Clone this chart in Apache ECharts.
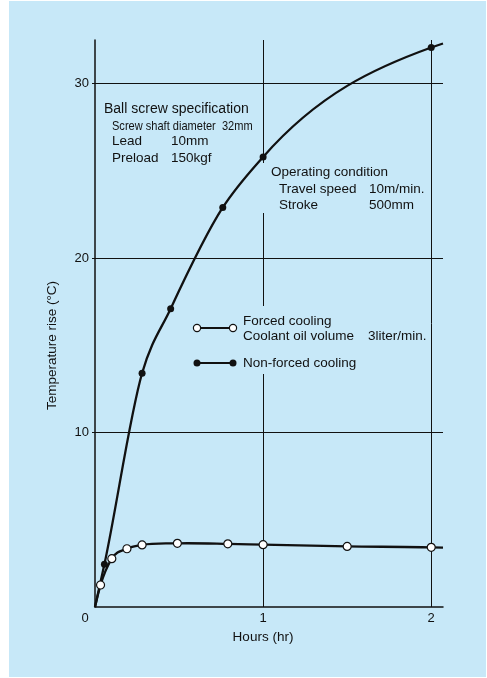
<!DOCTYPE html>
<html>
<head>
<meta charset="utf-8">
<script src="https://cdn.jsdelivr.net/npm/echarts@6/dist/echarts.min.js"></script>
<style>
  html, body { margin: 0; padding: 0; background: #ffffff; }
  #chart { position: absolute; left: 9px; top: 1px; width: 477px; height: 676px; background: #c7e8f8; }
</style>
</head>
<body>
<div id="chart"></div>
<script>
// Temperature rise of a ball screw over running time
const xTicks = [0, 1, 2];
const yTicks = [10, 20, 30];

// Forced cooling (coolant oil 3 liter/min) – hours, °C
const forcedHours = [0, 0.033, 0.10, 0.19, 0.28, 0.49, 0.79, 1.0, 1.5, 2.0, 2.07];
const forcedTemp  = [0, 1.26, 2.77, 3.34, 3.56, 3.65, 3.62, 3.57, 3.47, 3.42, 3.40];

// Non-forced cooling – hours, °C
const nonForcedHours = [0, 0.056, 0.28, 0.45, 0.76, 1.0, 2.0, 2.07];
const nonForcedTemp  = [0, 2.45, 13.4, 17.1, 22.9, 25.8, 32.07, 32.3];

const FONT = '"Liberation Sans", Arial, Helvetica, sans-serif';
const INK = '#111111';
const PANEL = '#c7e8f8';
const FS = 13.5;

// curve ends (origin and the run-out past 2 h) carry no marker
function buildPoints(xs, ys) {
  return xs.map((x, i) => {
    const p = { value: [x, ys[i]] };
    if (i === 0 || i === xs.length - 1) p.symbol = 'none';
    return p;
  });
}

// Smooth path through pixel points: cubic Hermite segments whose tangents
// come from the parabola through each point and its two neighbours.
function smoothPath(pts) {
  const n = pts.length;
  const d = [];
  for (let i = 0; i < n - 1; i++) {
    d.push((pts[i + 1][1] - pts[i][1]) / (pts[i + 1][0] - pts[i][0]));
  }
  const m = new Array(n);
  for (let i = 1; i < n - 1; i++) {
    const h0 = pts[i][0] - pts[i - 1][0], h1 = pts[i + 1][0] - pts[i][0];
    m[i] = (d[i - 1] * h1 + d[i] * h0) / (h0 + h1);
  }
  const hA = pts[1][0] - pts[0][0], hB = pts[2][0] - pts[1][0];
  m[0] = d[0] + (d[0] - d[1]) * hA / (hA + hB);
  const hY = pts[n - 1][0] - pts[n - 2][0], hZ = pts[n - 2][0] - pts[n - 3][0];
  m[n - 1] = d[n - 2] + (d[n - 2] - d[n - 3]) * hY / (hY + hZ);
  let s = 'M' + pts[0][0] + ' ' + pts[0][1];
  for (let i = 0; i < n - 1; i++) {
    const dx = (pts[i + 1][0] - pts[i][0]) / 3;
    s += ' C' + (pts[i][0] + dx) + ' ' + (pts[i][1] + m[i] * dx) + ' ' +
         (pts[i + 1][0] - dx) + ' ' + (pts[i + 1][1] - m[i + 1] * dx) + ' ' +
         pts[i + 1][0] + ' ' + pts[i + 1][1];
  }
  return s;
}

function curveSeries(name, xs, ys) {
  return {
    name: name, type: 'custom', z: 3, silent: true,
    data: xs.map((x, i) => [x, ys[i]]),
    renderItem: function (params, api) {
      if (params.dataIndex !== 0) return null;
      const pts = xs.map((x, i) => api.coord([x, ys[i]]));
      return {
        type: 'path',
        shape: { pathData: smoothPath(pts) },
        style: { fill: 'none', stroke: INK, lineWidth: 2.3, lineJoin: 'round' }
      };
    }
  };
}

const chart = echarts.init(document.getElementById('chart'), null, { renderer: 'canvas' });

// grid offsets relative to the panel (panel starts at 9,1 in the page)
const gLeft = 95 - 9, gTop = 40 - 1, gRight = 486 - 443, gBottom = 677 - 607;

function txt(x, y, text, size, extra) {
  return Object.assign({
    type: 'text', x: x - 9, y: y - 1, z: 3,
    style: { text: text, font: size + 'px ' + FONT, fill: INK, verticalAlign: 'middle' }
  }, extra || {});
}

chart.setOption({
  animation: false,
  backgroundColor: PANEL,
  textStyle: { fontFamily: FONT },
  grid: { left: gLeft, top: gTop, right: gRight, bottom: gBottom, containLabel: false },
  xAxis: {
    type: 'value', min: 0, max: 2.07, interval: 1,
    name: 'Hours (hr)', nameLocation: 'middle', nameGap: 22,
    nameTextStyle: { fontSize: FS, color: INK, fontFamily: FONT, padding: [0, 12, 0, 0] },
    axisLine: { show: true, onZero: false, lineStyle: { color: INK, width: 1.5 } },
    axisTick: { show: false },
    axisLabel: {
      customValues: xTicks, margin: 5, fontSize: 13, color: INK, fontFamily: FONT,
      formatter: v => v === 0 ? '{z|0}' : String(v),
      rich: { z: { fontSize: 13, color: INK, fontFamily: FONT, padding: [0, 20, 0, 0] } }
    },
    splitLine: { show: true, showMinLine: false, showMaxLine: false, lineStyle: { color: INK, width: 1 } }
  },
  yAxis: {
    type: 'value', min: 0, max: 32.5, interval: 10,
    name: 'Temperature rise (°C)', nameLocation: 'middle', nameGap: 36,
    nameTextStyle: { fontSize: FS, color: INK, fontFamily: FONT, padding: [0, 44, 0, 0] },
    axisLine: { show: true, lineStyle: { color: INK, width: 1.5 } },
    axisTick: { show: true, customValues: yTicks, length: 3, lineStyle: { color: INK, width: 1 } },
    axisLabel: { customValues: yTicks, margin: 6, fontSize: 13, color: INK, fontFamily: FONT },
    splitLine: { show: true, showMinLine: true, showMaxLine: true, lineStyle: { color: INK, width: 1 } }
  },
  series: [
    curveSeries('Non-forced cooling curve', nonForcedHours, nonForcedTemp),
    curveSeries('Forced cooling curve', forcedHours, forcedTemp),
    {
      name: 'Non-forced cooling', type: 'line', z: 4,
      data: buildPoints(nonForcedHours, nonForcedTemp),
      symbol: 'circle', symbolSize: 7,
      lineStyle: { width: 0, opacity: 0 },
      itemStyle: { color: INK, borderColor: INK, borderWidth: 0 }
    },
    {
      name: 'Forced cooling', type: 'line', z: 5,
      data: buildPoints(forcedHours, forcedTemp),
      symbol: 'circle', symbolSize: 8,
      lineStyle: { width: 0, opacity: 0 },
      itemStyle: { color: '#ffffff', borderColor: INK, borderWidth: 1.2 }
    }
  ],
  graphic: [
    // panel-coloured strips that break the 1 h grid line behind the notes
    { type: 'rect', x: 257 - 9, y: 306 - 1, z: 1, shape: { width: 12, height: 68 }, style: { fill: PANEL } },
    { type: 'rect', x: 257 - 9, y: 163 - 1, z: 1, shape: { width: 12, height: 50 }, style: { fill: PANEL } },

    // ball screw specification
    txt(104, 109, 'Ball screw specification', 14),
    txt(112, 126, 'Screw shaft diameter  32mm', 13, { scaleX: 0.85 }),
    txt(112, 141, 'Lead', FS),
    txt(171, 141, '10mm', FS),
    txt(112, 158, 'Preload', FS),
    txt(171, 158, '150kgf', FS),

    // operating condition
    txt(271, 172, 'Operating condition', FS),
    txt(279, 189, 'Travel speed', FS),
    txt(369, 189, '10m/min.', FS),
    txt(279, 205, 'Stroke', FS),
    txt(369, 205, '500mm', FS),

    // key
    { type: 'line', z: 3, shape: { x1: 197 - 9, y1: 328 - 1, x2: 233 - 9, y2: 328 - 1 }, style: { stroke: INK, lineWidth: 2 } },
    { type: 'circle', z: 4, shape: { cx: 197 - 9, cy: 328 - 1, r: 3.6 }, style: { fill: '#ffffff', stroke: INK, lineWidth: 1.2 } },
    { type: 'circle', z: 4, shape: { cx: 233 - 9, cy: 328 - 1, r: 3.6 }, style: { fill: '#ffffff', stroke: INK, lineWidth: 1.2 } },
    txt(243, 321, 'Forced cooling', FS),
    txt(243, 336, 'Coolant oil volume', FS),
    txt(368, 336, '3liter/min.', FS),

    { type: 'line', z: 3, shape: { x1: 197 - 9, y1: 363 - 1, x2: 233 - 9, y2: 363 - 1 }, style: { stroke: INK, lineWidth: 2 } },
    { type: 'circle', z: 4, shape: { cx: 197 - 9, cy: 363 - 1, r: 3.5 }, style: { fill: INK } },
    { type: 'circle', z: 4, shape: { cx: 233 - 9, cy: 363 - 1, r: 3.5 }, style: { fill: INK } },
    txt(243, 363, 'Non-forced cooling', FS)
  ]
});
</script>
</body>
</html>
